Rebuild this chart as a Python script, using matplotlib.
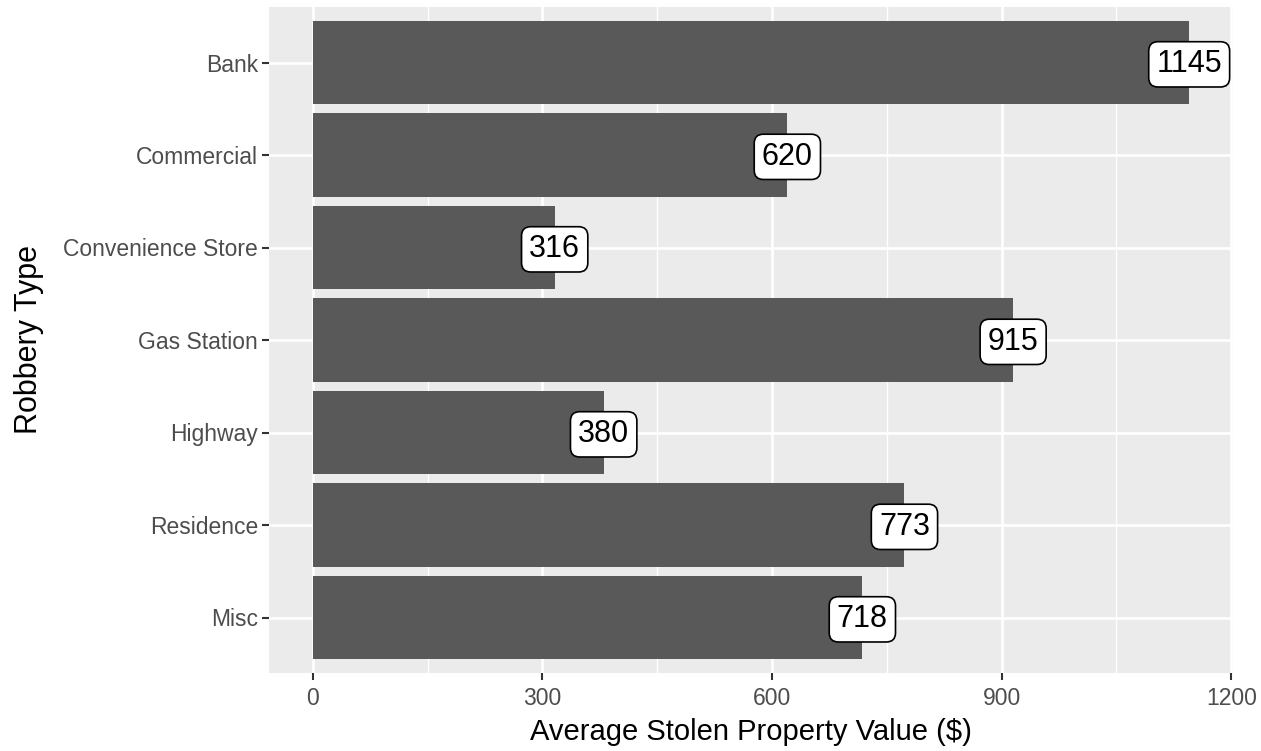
import matplotlib
matplotlib.use('Agg')
import matplotlib.pyplot as plt
from matplotlib.ticker import MultipleLocator

plt.rcParams['font.family'] = ['Liberation Sans', 'DejaVu Sans']

robbery_types = ['Bank', 'Commercial', 'Convenience Store', 'Gas Station',
                 'Highway', 'Residence', 'Misc']
avg_value = [1145, 620, 316, 915, 380, 773, 718]
x_ticks = [0, 300, 600, 900, 1200]

fig = plt.figure(figsize=(12.61, 7.51), dpi=100)
ax = fig.add_axes([269/1261, 78/751, (1233-269)/1261, (673-7)/751])

n = len(robbery_types)
pos = list(range(n, 0, -1))  # first category at top

ax.set_facecolor('#EBEBEB')
for s in ax.spines.values():
    s.set_visible(False)

ax.barh(pos, avg_value, height=0.9, color='#595959', zorder=3)

for p, v in zip(pos, avg_value):
    ax.text(v, p - 0.02, str(v), ha='center', va='center', fontsize=22, color='black', zorder=4,
            bbox=dict(boxstyle='round,pad=0.25,rounding_size=0.3', fc='white', ec='black', lw=1.2))

# ggplot-style expansion
xmax = max(avg_value)
ax.set_xlim(-0.05*xmax, xmax*1.05)
ax.set_ylim(0.4, n + 0.6)

ax.set_xticks(x_ticks)
ax.xaxis.set_minor_locator(MultipleLocator(150))
ax.set_yticks(pos)
ax.set_yticklabels(robbery_types)

ax.grid(which='major', color='white', linewidth=1.9, zorder=1)
ax.grid(which='minor', axis='x', color='white', linewidth=0.95, zorder=1)
ax.set_axisbelow(True)

ax.tick_params(which='major', length=5, width=1.5, color='#333333',
               labelsize=16.5, labelcolor='#4D4D4D', pad=3)
ax.tick_params(axis='x', which='major', pad=5)
ax.tick_params(which='minor', length=0)

ax.set_xlabel('Average Stolen Property Value ($)', fontsize=21, labelpad=6)
ax.set_ylabel('Robbery Type', fontsize=22, labelpad=14)

fig.savefig('out.png', dpi=100)
